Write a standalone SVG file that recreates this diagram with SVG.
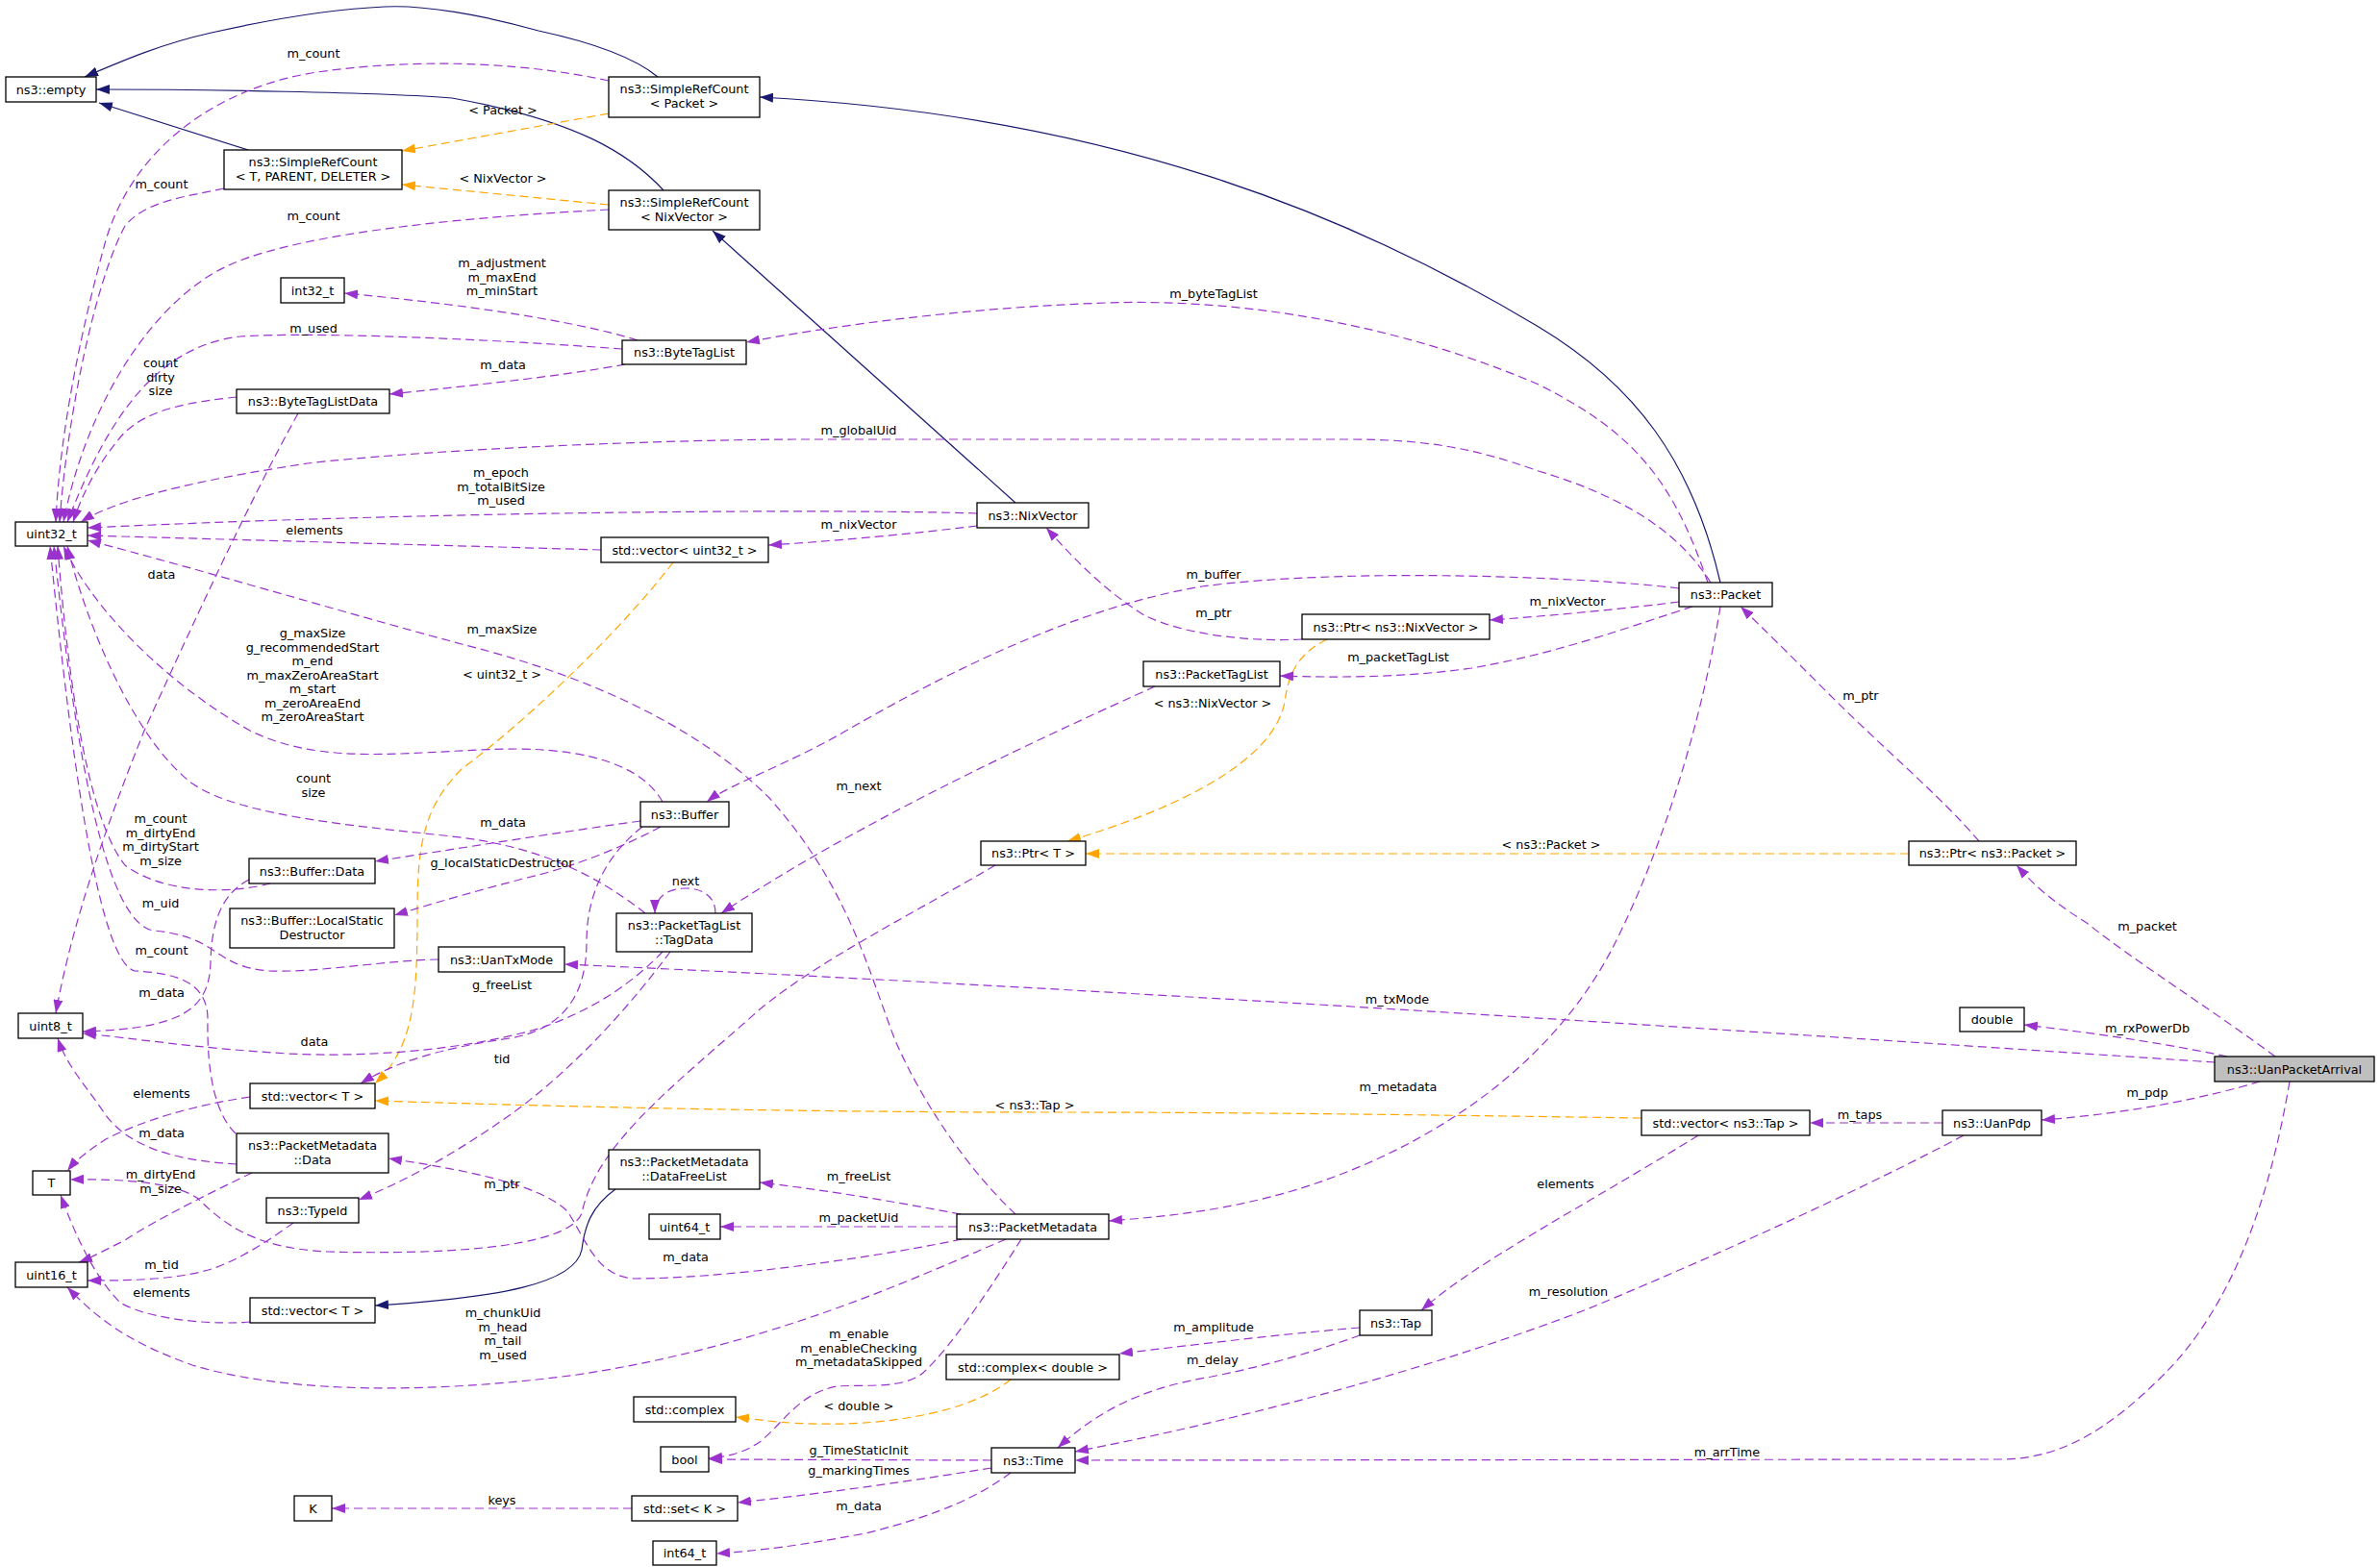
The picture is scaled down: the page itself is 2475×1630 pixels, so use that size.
<svg xmlns="http://www.w3.org/2000/svg" width="2475" height="1630" viewBox="0 0 2475 1630">
<defs>
<marker id="ap" viewBox="0 0 14 10" refX="14" refY="5" markerWidth="14" markerHeight="10" markerUnits="userSpaceOnUse" orient="auto"><path d="M0,0 L14,5 L0,10 z" fill="#9a32cd"/></marker>
<marker id="ao" viewBox="0 0 14 10" refX="14" refY="5" markerWidth="14" markerHeight="10" markerUnits="userSpaceOnUse" orient="auto"><path d="M0,0 L14,5 L0,10 z" fill="#ffa500"/></marker>
<marker id="an" viewBox="0 0 14 10" refX="14" refY="5" markerWidth="14" markerHeight="10" markerUnits="userSpaceOnUse" orient="auto"><path d="M0,0 L14,5 L0,10 z" fill="#191970"/></marker>
</defs>
<style>
.n rect{fill:#fff;stroke:#000;stroke-width:1.3}
.n.g rect{fill:#bfbfbf}
text{font-family:"DejaVu Sans",sans-serif;font-size:12.8px;fill:#000;text-anchor:middle}
.p{fill:none;stroke:#9a32cd;stroke-width:1.2;stroke-dasharray:9,5;marker-end:url(#ap)}
.o{fill:none;stroke:#ffa500;stroke-width:1.2;stroke-dasharray:9,5;marker-end:url(#ao)}
.s{fill:none;stroke:#191970;stroke-width:1.2;marker-end:url(#an)}
</style>
<rect width="2475" height="1630" fill="#fff"/>
<g id="connectors">
<path class="s" d="M684,80 C660,60 620,45 560,32 C500,15 440,5 400,7 C330,10 260,25 220,34 C170,45 130,62 88,80"/>
<path class="s" d="M690,198 C655,160 600,125 470,102 C400,96 200,93 100,93"/>
<path class="s" d="M258,156 L103,107"/>
<path class="s" d="M1789,606 C1760,480 1700,400 1600,340 C1400,220 1150,120 790,101"/>
<path class="s" d="M1056,523 L741,240"/>
<path class="s" d="M640,1237 C615,1255 608,1275 605,1300 C598,1335 520,1350 390,1358"/>
<path class="o" d="M633,118 L418,157"/>
<path class="o" d="M633,213 L418,192"/>
<path class="o" d="M700,585 C650,650 560,740 480,800 C440,840 434,880 434,950 C434,1040 430,1090 390,1127"/>
<path class="o" d="M1380,665 C1350,680 1340,700 1336,730 C1325,790 1230,840 1110,875"/>
<path class="o" d="M1985,888 L1129,888"/>
<path class="o" d="M1707,1163 C1500,1160 1300,1157 1100,1157 C800,1157 550,1150 390,1145"/>
<path class="o" d="M1051,1435 C1020,1460 960,1478 880,1481 C820,1482 800,1478 765,1474"/>
<path class="p" d="M633,84 C560,68 450,58 330,75 C230,90 140,150 110,250 C85,340 62,450 58,543"/>
<path class="p" d="M233,196 C190,205 150,210 130,235 C100,290 70,430 62,543"/>
<path class="p" d="M633,218 C500,225 320,240 240,275 C160,310 90,420 66,543"/>
<path class="p" d="M663,354 C620,340 520,320 358,305"/>
<path class="p" d="M647,363 C500,352 320,345 250,350 C160,360 110,440 70,543"/>
<path class="p" d="M650,379 C580,392 480,402 405,410"/>
<path class="p" d="M246,413 C200,418 150,425 125,455 C100,485 85,515 76,543"/>
<path class="p" d="M310,430 C260,520 200,650 150,760 C110,860 75,960 58,1054"/>
<path class="p" d="M1776,606 C1740,500 1700,450 1600,400 C1460,340 1300,310 1150,315 C1000,320 860,340 776,356"/>
<path class="p" d="M1779,606 C1750,560 1700,520 1600,490 C1530,465 1480,457 1400,457 L825,457 C650,458 420,470 320,482 C200,500 120,520 84,543"/>
<path class="p" d="M1016,534 C900,530 500,530 91,549"/>
<path class="p" d="M625,572 L91,557"/>
<path class="p" d="M1016,547 C950,555 880,562 799,567"/>
<path class="p" d="M1354,665 C1300,668 1230,660 1190,640 C1150,615 1120,585 1088,549"/>
<path class="p" d="M1746,626 C1700,632 1620,640 1549,645"/>
<path class="p" d="M1746,612 C1650,600 1400,590 1250,610 C1100,635 950,720 880,760 C820,795 760,815 735,834"/>
<path class="p" d="M1760,631 C1700,650 1620,680 1530,695 C1460,705 1390,705 1331,703"/>
<path class="p" d="M689,834 C670,800 620,780 540,779 C440,779 340,800 260,760 C180,715 100,640 66,568"/>
<path class="p" d="M666,854 C580,866 480,882 390,896"/>
<path class="p" d="M687,860 C650,880 600,900 560,910 C500,925 450,940 410,952"/>
<path class="p" d="M668,860 C630,890 610,930 610,980 C610,1030 590,1070 530,1080 C460,1090 410,1105 375,1127"/>
<path class="p" d="M259,915 C230,930 220,960 219,1000 C218,1050 190,1070 86,1073"/>
<path class="p" d="M281,919 C240,930 170,930 130,900 C90,850 70,700 60,568"/>
<path class="p" d="M671,950 C620,910 560,880 470,870 C380,860 250,850 200,815 C140,770 90,650 70,568"/>
<path class="p" d="M744,950 C744,932 730,924 713,924 C696,924 681,932 681,950"/>
<path class="p" d="M1201,714 C1100,760 900,850 750,950"/>
<path class="p" d="M697,990 C660,1040 600,1110 530,1160 C480,1195 430,1225 373,1248"/>
<path class="p" d="M689,990 C660,1020 620,1050 560,1070 C480,1093 380,1100 300,1096 C200,1090 140,1080 86,1075"/>
<path class="p" d="M456,998 C400,999 330,1012 280,1010 C220,1005 230,975 160,968 C100,960 70,700 56,568"/>
<path class="p" d="M2303,1105 C2000,1085 1200,1030 587,1003"/>
<path class="p" d="M246,1211 C200,1208 140,1200 110,1160 C90,1130 70,1110 60,1080"/>
<path class="p" d="M245,1179 C225,1160 215,1120 216,1060 C216,1020 180,1012 140,1010 C100,1000 70,750 52,568"/>
<path class="p" d="M262,1220 C220,1240 160,1270 130,1290 C110,1300 95,1308 82,1313"/>
<path class="p" d="M1035,900 C950,950 850,1000 790,1050 C700,1130 620,1190 605,1262 C590,1300 450,1305 340,1302 C260,1298 230,1270 205,1246 C180,1230 130,1226 73,1227"/>
<path class="p" d="M260,1141 C200,1150 150,1165 110,1185 C90,1198 78,1208 70,1218"/>
<path class="p" d="M260,1375 C230,1378 160,1375 125,1355 C100,1330 80,1290 63,1243"/>
<path class="p" d="M305,1272 C280,1290 250,1310 220,1320 C180,1332 130,1332 91,1332"/>
<path class="p" d="M1046,1289 C950,1330 800,1400 600,1430 C450,1450 300,1450 200,1420 C130,1395 100,1370 70,1339"/>
<path class="p" d="M1000,1289 C900,1310 750,1330 660,1330 C620,1328 610,1290 590,1260 C560,1230 470,1215 404,1205"/>
<path class="p" d="M995,1276 L749,1276"/>
<path class="p" d="M999,1263 C930,1250 860,1238 790,1230"/>
<path class="p" d="M1056,1263 C1010,1220 960,1150 930,1080 C900,1000 880,920 800,830 C720,750 600,700 480,670 C350,635 200,590 91,562"/>
<path class="p" d="M1062,1289 C1030,1340 990,1400 960,1428 C940,1445 900,1440 870,1442 C830,1450 815,1480 790,1500 C775,1510 760,1515 737,1517"/>
<path class="p" d="M1031,1519 L737,1518"/>
<path class="p" d="M1031,1527 C950,1540 870,1552 767,1563"/>
<path class="p" d="M1051,1532 C1020,1555 980,1575 900,1595 C830,1608 790,1613 745,1616"/>
<path class="p" d="M657,1569 L345,1569"/>
<path class="p" d="M1414,1381 C1330,1388 1250,1398 1164,1408"/>
<path class="p" d="M1414,1389 C1370,1405 1320,1420 1260,1432 C1200,1442 1150,1460 1100,1506"/>
<path class="p" d="M1766,1181 C1720,1210 1650,1250 1600,1280 C1550,1310 1510,1335 1478,1363"/>
<path class="p" d="M2020,1168 L1882,1168"/>
<path class="p" d="M2042,1181 C1950,1230 1800,1300 1650,1362 C1500,1420 1300,1475 1118,1510"/>
<path class="p" d="M2381,1125 C2360,1250 2320,1360 2250,1430 C2190,1490 2140,1518 2080,1518 L1118,1519"/>
<path class="p" d="M2350,1125 C2300,1140 2220,1158 2123,1165"/>
<path class="p" d="M2316,1099 C2250,1085 2180,1075 2105,1066"/>
<path class="p" d="M2366,1099 C2300,1050 2220,1000 2170,960 C2130,935 2115,920 2097,900"/>
<path class="p" d="M2058,875 C2020,830 1960,780 1900,720 C1860,680 1835,655 1810,631"/>
<path class="p" d="M1789,631 C1775,720 1740,860 1680,980 C1620,1100 1500,1190 1350,1237 C1280,1258 1220,1265 1153,1270"/>
</g>
<g id="labels">
<text x="326" y="60">m_count</text>
<text x="523" y="119">&lt; Packet &gt;</text>
<text x="168" y="196">m_count</text>
<text x="523" y="190">&lt; NixVector &gt;</text>
<text x="326" y="229">m_count</text>
<text x="522" y="278">m_adjustment<tspan x="522" dy="14.5">m_maxEnd</tspan><tspan x="522" dy="14.5">m_minStart</tspan></text>
<text x="326" y="346">m_used</text>
<text x="523" y="384">m_data</text>
<text x="167" y="382">count<tspan x="167" dy="14.5">dirty</tspan><tspan x="167" dy="14.5">size</tspan></text>
<text x="1262" y="310">m_byteTagList</text>
<text x="893" y="452">m_globalUid</text>
<text x="521" y="496">m_epoch<tspan x="521" dy="14.5">m_totalBitSize</tspan><tspan x="521" dy="14.5">m_used</tspan></text>
<text x="327" y="556">elements</text>
<text x="893" y="550">m_nixVector</text>
<text x="168" y="602">data</text>
<text x="1262" y="602">m_buffer</text>
<text x="1262" y="642">m_ptr</text>
<text x="1630" y="630">m_nixVector</text>
<text x="1454" y="688">m_packetTagList</text>
<text x="1261" y="736">&lt; ns3::NixVector &gt;</text>
<text x="1935" y="728">m_ptr</text>
<text x="325" y="663">g_maxSize<tspan x="325" dy="14.5">g_recommendedStart</tspan><tspan x="325" dy="14.5">m_end</tspan><tspan x="325" dy="14.5">m_maxZeroAreaStart</tspan><tspan x="325" dy="14.5">m_start</tspan><tspan x="325" dy="14.5">m_zeroAreaEnd</tspan><tspan x="325" dy="14.5">m_zeroAreaStart</tspan></text>
<text x="522" y="659">m_maxSize</text>
<text x="522" y="706">&lt; uint32_t &gt;</text>
<text x="893" y="822">m_next</text>
<text x="326" y="814">count<tspan x="326" dy="14.5">size</tspan></text>
<text x="523" y="860">m_data</text>
<text x="522" y="902">g_localStaticDestructor</text>
<text x="713" y="921">next</text>
<text x="167" y="856">m_count<tspan x="167" dy="14.5">m_dirtyEnd</tspan><tspan x="167" dy="14.5">m_dirtyStart</tspan><tspan x="167" dy="14.5">m_size</tspan></text>
<text x="167" y="944">m_uid</text>
<text x="168" y="993">m_count</text>
<text x="522" y="1029">g_freeList</text>
<text x="168" y="1037">m_data</text>
<text x="1453" y="1044">m_txMode</text>
<text x="1613" y="883">&lt; ns3::Packet &gt;</text>
<text x="2233" y="968">m_packet</text>
<text x="2233" y="1074">m_rxPowerDb</text>
<text x="327" y="1088">data</text>
<text x="522" y="1106">tid</text>
<text x="168" y="1142">elements</text>
<text x="1076" y="1154">&lt; ns3::Tap &gt;</text>
<text x="1454" y="1135">m_metadata</text>
<text x="2233" y="1141">m_pdp</text>
<text x="1934" y="1164">m_taps</text>
<text x="168" y="1183">m_data</text>
<text x="167" y="1226">m_dirtyEnd<tspan x="167" dy="14.5">m_size</tspan></text>
<text x="893" y="1228">m_freeList</text>
<text x="1628" y="1236">elements</text>
<text x="522" y="1236">m_ptr</text>
<text x="893" y="1271">m_packetUid</text>
<text x="713" y="1312">m_data</text>
<text x="168" y="1320">m_tid</text>
<text x="168" y="1349">elements</text>
<text x="1631" y="1348">m_resolution</text>
<text x="523" y="1370">m_chunkUid<tspan x="523" dy="14.5">m_head</tspan><tspan x="523" dy="14.5">m_tail</tspan><tspan x="523" dy="14.5">m_used</tspan></text>
<text x="1262" y="1385">m_amplitude</text>
<text x="893" y="1392">m_enable<tspan x="893" dy="14.5">m_enableChecking</tspan><tspan x="893" dy="14.5">m_metadataSkipped</tspan></text>
<text x="1261" y="1419">m_delay</text>
<text x="893" y="1467">&lt; double &gt;</text>
<text x="893" y="1513">g_TimeStaticInit</text>
<text x="1796" y="1515">m_arrTime</text>
<text x="893" y="1534">g_markingTimes</text>
<text x="522" y="1565">keys</text>
<text x="893" y="1571">m_data</text>
</g>
<g id="empty" class="n"><rect x="6" y="80" width="94" height="26"/><text x="53" y="97.5">ns3::empty</text></g>
<g id="srcPacket" class="n"><rect x="633" y="80" width="157" height="42"/><text x="711.5" y="97">ns3::SimpleRefCount</text><text x="711.5" y="112">&lt; Packet &gt;</text></g>
<g id="srcT" class="n"><rect x="233" y="156" width="185" height="41"/><text x="325.5" y="173">ns3::SimpleRefCount</text><text x="325.5" y="188">&lt; T, PARENT, DELETER &gt;</text></g>
<g id="srcNix" class="n"><rect x="633" y="198" width="157" height="41"/><text x="711.5" y="215">ns3::SimpleRefCount</text><text x="711.5" y="230">&lt; NixVector &gt;</text></g>
<g id="int32" class="n"><rect x="292" y="289" width="66" height="26"/><text x="325" y="306.5">int32_t</text></g>
<g id="byteTagList" class="n"><rect x="647" y="354" width="129" height="25"/><text x="711.5" y="371">ns3::ByteTagList</text></g>
<g id="byteTagListData" class="n"><rect x="246" y="405" width="159" height="25"/><text x="325.5" y="422">ns3::ByteTagListData</text></g>
<g id="uint32" class="n"><rect x="16" y="543" width="75" height="25"/><text x="53.5" y="560">uint32_t</text></g>
<g id="vecUint32" class="n"><rect x="625" y="559" width="174" height="26"/><text x="712" y="576.5">std::vector&lt; uint32_t &gt;</text></g>
<g id="nixVector" class="n"><rect x="1016" y="523" width="116" height="26"/><text x="1074" y="540.5">ns3::NixVector</text></g>
<g id="ptrNix" class="n"><rect x="1354" y="639" width="195" height="26"/><text x="1451.5" y="656.5">ns3::Ptr&lt; ns3::NixVector &gt;</text></g>
<g id="packetTagList" class="n"><rect x="1189" y="688" width="142" height="26"/><text x="1260" y="705.5">ns3::PacketTagList</text></g>
<g id="packet" class="n"><rect x="1746" y="606" width="97" height="25"/><text x="1794.5" y="623">ns3::Packet</text></g>
<g id="buffer" class="n"><rect x="666" y="834" width="92" height="26"/><text x="712" y="851.5">ns3::Buffer</text></g>
<g id="bufferData" class="n"><rect x="259" y="893" width="131" height="26"/><text x="324.5" y="910.5">ns3::Buffer::Data</text></g>
<g id="lsd" class="n"><rect x="239" y="945" width="171" height="41"/><text x="324.5" y="962">ns3::Buffer::LocalStatic</text><text x="324.5" y="977">Destructor</text></g>
<g id="tagData" class="n"><rect x="641" y="950" width="141" height="40"/><text x="711.5" y="966.5">ns3::PacketTagList</text><text x="711.5" y="981.5">::TagData</text></g>
<g id="uanTxMode" class="n"><rect x="456" y="985" width="131" height="26"/><text x="521.5" y="1002.5">ns3::UanTxMode</text></g>
<g id="uint8" class="n"><rect x="19" y="1054" width="67" height="26"/><text x="52.5" y="1071.5">uint8_t</text></g>
<g id="vecT1" class="n"><rect x="260" y="1127" width="130" height="26"/><text x="325" y="1144.5">std::vector&lt; T &gt;</text></g>
<g id="pmData" class="n"><rect x="246" y="1179" width="158" height="41"/><text x="325" y="1196">ns3::PacketMetadata</text><text x="325" y="1211">::Data</text></g>
<g id="dataFreeList" class="n"><rect x="633" y="1196" width="157" height="41"/><text x="711.5" y="1213">ns3::PacketMetadata</text><text x="711.5" y="1228">::DataFreeList</text></g>
<g id="T" class="n"><rect x="34" y="1218" width="39" height="25"/><text x="53.5" y="1235">T</text></g>
<g id="typeId" class="n"><rect x="277" y="1246" width="96" height="26"/><text x="325" y="1263.5">ns3::TypeId</text></g>
<g id="uint64" class="n"><rect x="675" y="1263" width="74" height="26"/><text x="712" y="1280.5">uint64_t</text></g>
<g id="uint16" class="n"><rect x="16" y="1313" width="75" height="26"/><text x="53.5" y="1330.5">uint16_t</text></g>
<g id="vecT2" class="n"><rect x="260" y="1350" width="130" height="26"/><text x="325" y="1367.5">std::vector&lt; T &gt;</text></g>
<g id="complex" class="n"><rect x="659" y="1453" width="106" height="26"/><text x="712" y="1470.5">std::complex</text></g>
<g id="bool" class="n"><rect x="687" y="1505" width="50" height="26"/><text x="712" y="1522.5">bool</text></g>
<g id="K" class="n"><rect x="306" y="1556" width="39" height="26"/><text x="325.5" y="1573.5">K</text></g>
<g id="setK" class="n"><rect x="657" y="1556" width="110" height="26"/><text x="712" y="1573.5">std::set&lt; K &gt;</text></g>
<g id="int64" class="n"><rect x="679" y="1603" width="66" height="25"/><text x="712" y="1620">int64_t</text></g>
<g id="ptrT" class="n"><rect x="1020" y="875" width="109" height="25"/><text x="1074.5" y="892">ns3::Ptr&lt; T &gt;</text></g>
<g id="packetMetadata" class="n"><rect x="995" y="1263" width="158" height="26"/><text x="1074" y="1280.5">ns3::PacketMetadata</text></g>
<g id="tap" class="n"><rect x="1414" y="1363" width="75" height="26"/><text x="1451.5" y="1380.5">ns3::Tap</text></g>
<g id="complexD" class="n"><rect x="984" y="1409" width="180" height="26"/><text x="1074" y="1426.5">std::complex&lt; double &gt;</text></g>
<g id="time" class="n"><rect x="1031" y="1506" width="87" height="26"/><text x="1074.5" y="1523.5">ns3::Time</text></g>
<g id="ptrPacket" class="n"><rect x="1985" y="875" width="174" height="25"/><text x="2072" y="892">ns3::Ptr&lt; ns3::Packet &gt;</text></g>
<g id="double" class="n"><rect x="2038" y="1048" width="67" height="25"/><text x="2071.5" y="1065">double</text></g>
<g id="uanPacketArrival" class="n g"><rect x="2303" y="1099" width="166" height="26"/><text x="2386" y="1116.5">ns3::UanPacketArrival</text></g>
<g id="vecTap" class="n"><rect x="1707" y="1155" width="175" height="26"/><text x="1794.5" y="1172.5">std::vector&lt; ns3::Tap &gt;</text></g>
<g id="uanPdp" class="n"><rect x="2020" y="1155" width="103" height="26"/><text x="2071.5" y="1172.5">ns3::UanPdp</text></g>
</svg>
